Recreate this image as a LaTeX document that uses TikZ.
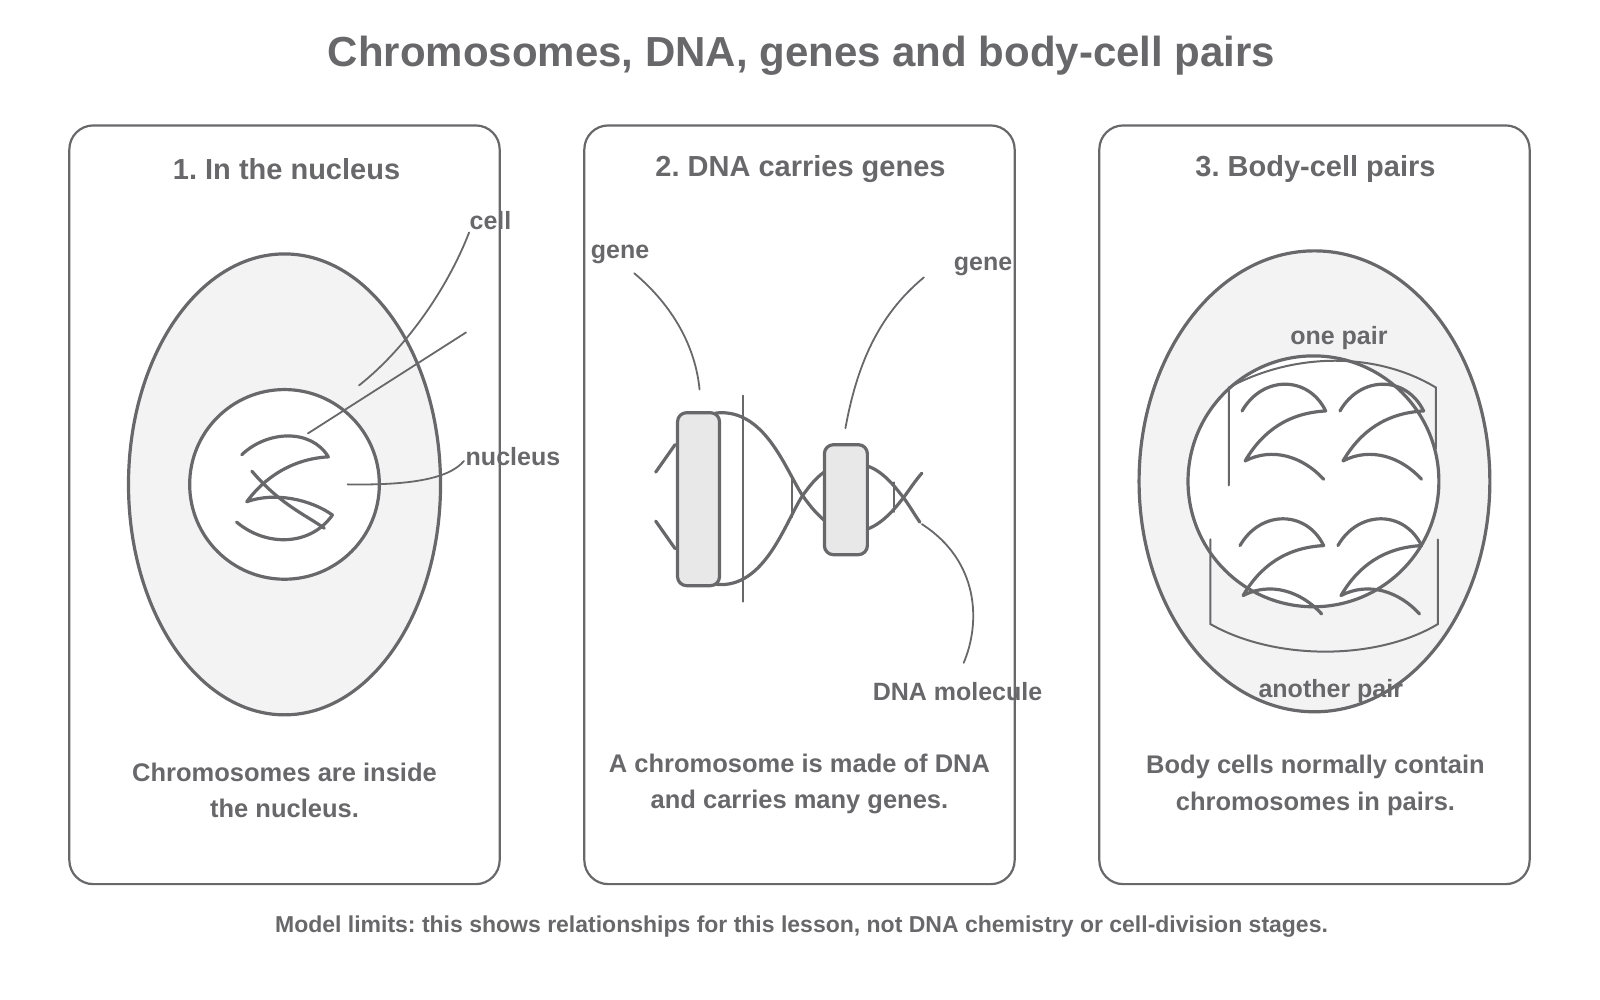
\documentclass[tikz,border=0pt]{standalone}
\usepackage{fontspec}
\setmainfont{Liberation Sans}
\frenchspacing
\begin{document}
\begin{tikzpicture}[x=1.02pt,y=-1.02pt,
  ink/.style={draw=gc,line width=3.2pt,line cap=round,line join=round},
  thin/.style={draw=gc,line width=2pt,line cap=round},
  lead/.style={draw=gc,line width=1.8pt,line cap=round},
  panel/.style={draw=gc,line width=2.2pt,rounded corners=24pt},
  lbl/.style={text=gc,font=\bfseries\fontsize{25}{30}\selectfont,inner sep=1pt},
  body/.style={text=gc,font=\bfseries\fontsize{25.5}{36.5}\selectfont,align=center},
  head/.style={text=gc,font=\bfseries\fontsize{29}{34}\selectfont},
  gene/.style={ink,fill=gf,rounded corners=9pt},
  chrom/.style={ink}]
\definecolor{gc}{HTML}{68686B}
\definecolor{gf}{HTML}{E8E8E8}
\definecolor{cf}{HTML}{F3F3F3}
\useasboundingbox (0,0) rectangle (1569,980);
\node[text=gc,font=\bfseries\fontsize{42}{48}\selectfont] (title) at (786,55) {Chromosomes, DNA, genes and body-cell pairs};
% panels
\draw[panel] (68,123) rectangle (490,867);
\draw[panel] (573,123) rectangle (995,867);
\draw[panel] (1078,123) rectangle (1500,867);
\node[head] (h1) at (281,166) {1. In the nucleus};
\node[head] (h2) at (785,166) {2. DNA carries genes};
\node[head] (h3) at (1290,166) {3. Body-cell pairs};
% panel 1
\draw[ink,fill=cf] (279,475) ellipse [x radius=153,y radius=226];
\draw[ink,fill=white] (279,475) circle [radius=93];
\draw[chrom] (237,446) .. controls (262,422) and (305,420) .. (322,448)
  .. controls (285,450) and (258,470) .. (242,492)
  .. controls (270,482) and (305,490) .. (326,505);
\draw[chrom] (232,512) .. controls (262,537) and (305,535) .. (326,505);
\draw[chrom] (247,462) .. controls (275,495) and (300,505) .. (318,518);
\node[lbl] (cell) at (481,216) {cell};
\node[lbl] (nuc) at (503,448) {nucleus};
\coordinate (c0) at (460,228);
\coordinate (c1) at (352,378);
\coordinate (c2) at (457,326);
\coordinate (c3) at (302,425);
\coordinate (n0) at (455,452);
\coordinate (n1) at (341,475);
\draw[lead] (c0) .. controls (440,280) and (400,340) .. (c1);
\draw[lead] (c2) -- (c3);
\draw[lead] (n0) .. controls (440,470) and (400,476) .. (n1);
\node[body] (b1) at (279,775) {Chromosomes are inside\\the nucleus.};
% panel 2
\draw[ink] (702,405) .. controls (750,400) and (770,460) .. (787,486) .. controls (795,497) and (800,503) .. (808,510);
\draw[ink] (702,573) .. controls (750,578) and (770,512) .. (787,486) .. controls (795,475) and (800,469) .. (808,463);
\draw[ink] (847,456) .. controls (865,460) and (878,478) .. (886,488) .. controls (892,496) and (897,505) .. (902,512);
\draw[ink] (847,520) .. controls (865,515) and (878,498) .. (886,488) .. controls (892,480) and (897,472) .. (904,464);
\draw[ink] (643,463) -- (662,436);
\draw[ink] (643,511) -- (662,538);
\draw[thin] (729,388) -- (729,590);
\draw[thin] (777,468) -- (777,507);
\draw[thin] (877,473) -- (877,502);
\node[gene,minimum width=42pt,minimum height=173pt] (g1) at (685,489.5) {};
\node[gene,minimum width=43pt,minimum height=110pt] (g2) at (829.5,490) {};
\node[lbl] (gl1) at (608,249) {gene};
\node[lbl] (gl2) at (964,261) {gene};
\node[lbl] (dna) at (939,678) {DNA molecule};
\coordinate (ga0) at (622,268);
\coordinate (ga1) at (686,382);
\coordinate (gb0) at (906,272);
\coordinate (gb1) at (829,420);
\coordinate (d1) at (904,514);
\coordinate (d2) at (945,650);
\draw[lead] (ga0) .. controls (660,300) and (682,340) .. (ga1);
\draw[lead] (gb0) .. controls (860,310) and (840,360) .. (gb1);
\draw[lead] (d1) .. controls (960,550) and (962,610) .. (d2);
\node[body] (b2) at (784,769) {A chromosome is made of DNA\\and carries many genes.};
% panel 3
\draw[ink,fill=cf] (1289,472) ellipse [x radius=172,y radius=226];
\draw[ink,fill=white] (1288,472) circle [radius=123];
\foreach \dx/\dy in {0/0,96/0,-2/132,94/132}{
  \draw[chrom,shift={(1218+\dx,403+\dy)}] (0,0) .. controls (20,-35) and (65,-35) .. (82,0)
    .. controls (45,2) and (20,20) .. (3,49) .. controls (30,35) and (60,45) .. (80,67);
}
\draw[thin] (1205,476) -- (1205,380) .. controls (1270,345) and (1350,345) .. (1408,380) -- (1408,440);
\draw[thin] (1187,529) -- (1187,612) .. controls (1250,648) and (1350,648) .. (1410,612) -- (1410,529);
\node[lbl] (op) at (1313,331) {one pair};
\node[lbl] (ap) at (1305,678) {another pair};
\node[body] (b3) at (1290,770) {Body cells normally contain\\chromosomes in pairs.};
\node[text=gc,font=\bfseries\fontsize{23}{27}\selectfont] (foot) at (786,909) {Model limits: this shows relationships for this lesson, not DNA chemistry or cell-division stages.};
\end{tikzpicture}
\end{document}
